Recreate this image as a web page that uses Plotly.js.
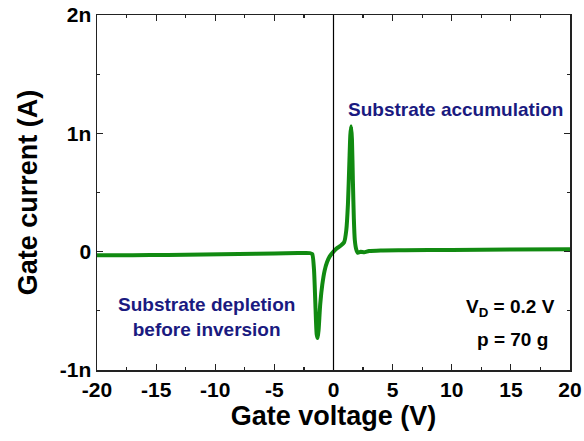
<!DOCTYPE html>
<html>
<head>
<meta charset="utf-8">
<script src="https://cdn.plot.ly/plotly-3.0.1.min.js"></script>
<style>html,body{margin:0;padding:0;background:#fff;}#chart{width:584px;height:441px;}</style>
</head>
<body>
<div id="chart"></div>
<script>
// Gate voltage (V)
const gateVoltage = [-20, -17, -14, -11, -8, -5, -3, -2, -1.8, -1.65, -1.52, -1.42, -1.34, -1.26, -1.12, -0.95, -0.75, -0.55, -0.32, 0, 0.3, 0.6, 0.9, 1.08, 1.22, 1.34, 1.42, 1.49, 1.56, 1.64, 1.72, 1.8, 1.92, 2.05, 2.3, 2.6, 3.0, 4, 6, 10, 15, 20];
// Gate current (nA)
const gateCurrent_nA = [-0.03, -0.03, -0.028, -0.025, -0.02, -0.015, -0.012, -0.012, -0.02, -0.15, -0.48, -0.7, -0.73, -0.66, -0.44, -0.28, -0.16, -0.09, -0.04, 0.0, 0.03, 0.05, 0.08, 0.18, 0.4, 0.75, 0.98, 1.06, 0.95, 0.6, 0.28, 0.1, 0.02, -0.01, 0.0, -0.005, 0.005, 0.01, 0.012, 0.015, 0.018, 0.02];
const xTickVals = [-20, -15, -10, -5, 0, 5, 10, 15, 20];
const xTickText = ['-20', '-15', '-10', '-5', '0', '5', '10', '15', '20'];
const yTickVals = [-1e-9, 0, 1e-9, 2e-9];
const yTickText = ['-1n', '0', '1n', '2n'];

const gateCurrent = gateCurrent_nA.map(v => v * 1e-9);

const FONT = 'Arial, "Liberation Sans", sans-serif';
const NAVY = '#1a1a80';

const trace = {
  x: gateVoltage, y: gateCurrent, type: 'scatter', mode: 'lines',
  line: {color: '#118a11', width: 4, shape: 'spline', smoothing: 0.6},
  hoverinfo: 'skip'
};

const axisCommon = {
  showgrid: false, zeroline: false, showline: true, linecolor: '#222', linewidth: 1.5,
  mirror: 'allticks', ticks: 'inside', ticklen: 6, tickwidth: 1.2, tickcolor: '#222',
  tickmode: 'array',
  tickfont: {family: FONT, size: 21, color: '#000', weight: 'bold'}
};

const layout = {
  width: 584, height: 441,
  margin: {l: 97, r: 14, t: 15, b: 71},
  paper_bgcolor: '#fff', plot_bgcolor: '#fff',
  showlegend: false,
  xaxis: Object.assign({}, axisCommon, {
    range: [-20, 20], tickvals: xTickVals, ticktext: xTickText,
    minor: {tickvals: [-17.5, -12.5, -7.5, -2.5, 2.5, 7.5, 12.5, 17.5], ticks: 'inside', ticklen: 3, tickcolor: '#222', tickwidth: 1.2},
    title: {text: 'Gate voltage (V)', font: {family: FONT, size: 27, color: '#000', weight: 'bold'}, standoff: 6}
  }),
  yaxis: Object.assign({}, axisCommon, {
    range: [-1e-9, 2e-9], tickvals: yTickVals, ticktext: yTickText,
    minor: {tickvals: [-0.5e-9, 0.5e-9, 1.5e-9], ticks: 'inside', ticklen: 3, tickcolor: '#222', tickwidth: 1.2},
    title: {text: 'Gate current (A)', font: {family: FONT, size: 27, color: '#000', weight: 'bold'}, standoff: 14}
  }),
  shapes: [{type: 'line', xref: 'x', yref: 'paper', x0: 0, x1: 0, y0: 0, y1: 1, line: {color: '#000', width: 1.2}}],
  annotations: [
    {text: 'Substrate accumulation', x: 10.3, y: 1.2e-9, xref: 'x', yref: 'y', showarrow: false, xanchor: 'center', yanchor: 'middle',
     font: {family: FONT, size: 19, color: NAVY, weight: 'bold'}},
    {text: 'Substrate depletion<br>before inversion', x: -10.7, y: -0.55e-9, xref: 'x', yref: 'y', showarrow: false, xanchor: 'center', yanchor: 'middle', align: 'center',
     font: {family: FONT, size: 19, color: NAVY, weight: 'bold'}},
    {text: 'V<sub>D</sub> = 0.2 V', x: 18.9, y: -0.48e-9, xref: 'x', yref: 'y', showarrow: false, xanchor: 'right', yanchor: 'middle',
     font: {family: FONT, size: 19, color: '#000', weight: 'bold'}},
    {text: 'p = 70 g', x: 18.3, y: -0.74e-9, xref: 'x', yref: 'y', showarrow: false, xanchor: 'right', yanchor: 'middle',
     font: {family: FONT, size: 19, color: '#000', weight: 'bold'}}
  ]
};

Plotly.newPlot('chart', [trace], layout, {displayModeBar: false, staticPlot: true});
</script>
</body>
</html>
